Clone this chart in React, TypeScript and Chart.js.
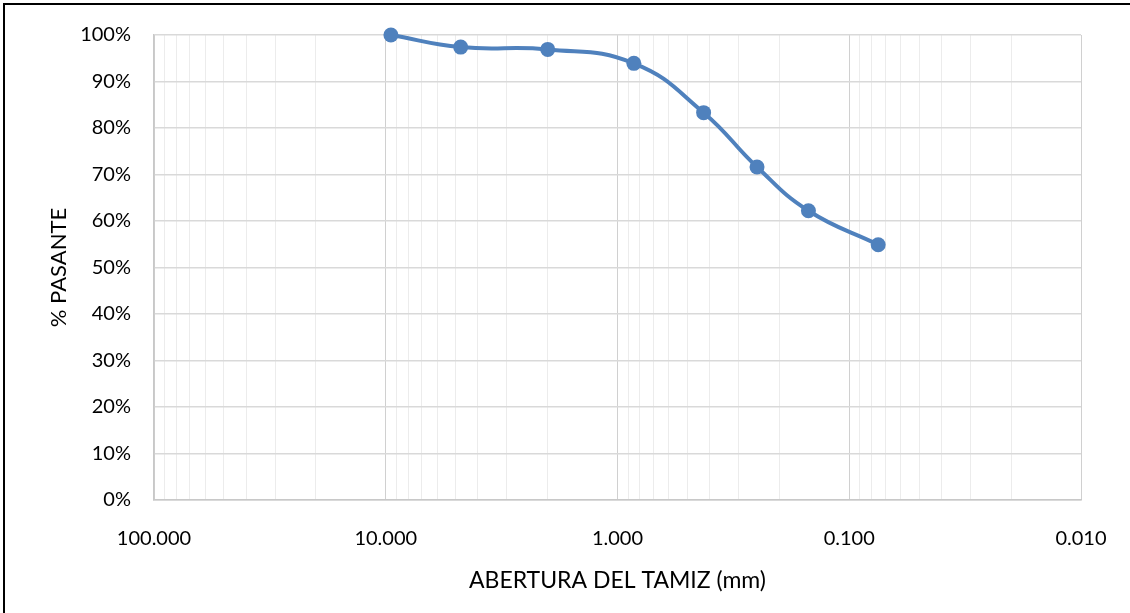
import { useEffect, useRef } from 'react';
import { Chart, registerables } from 'chart.js';

Chart.register(...registerables);

// Sieve openings (mm) and % passing
const aberturas = [9.5, 4.75, 2.0, 0.85, 0.425, 0.25, 0.15, 0.075];
const pasantes = [100, 97.4, 96.9, 93.9, 83.3, 71.6, 62.2, 54.9];

// Axis ticks
const xDecades = [100, 10, 1, 0.1, 0.01];
const xMultiples = [1, 2, 3, 4, 5, 6, 7, 8, 9];
const yTickValues = [0, 10, 20, 30, 40, 50, 60, 70, 80, 90, 100];

const xTitle = 'ABERTURA DEL TAMIZ (mm)';
const yTitle = '% PASANTE';

const isDecade = (v: number) => xDecades.some((d) => Math.abs(d - v) / d < 1e-9);

const xGridTicks: number[] = [];
for (const d of xDecades) {
  if (d === 100) {
    xGridTicks.push(d);
    continue;
  }
  for (const m of xMultiples) {
    const v = Number((d * m).toPrecision(6));
    if (v <= 100) xGridTicks.push(v);
  }
}

export default function App() {
  const canvasRef = useRef<HTMLCanvasElement | null>(null);

  useEffect(() => {
    document.body.style.margin = '0';
    const canvas = canvasRef.current;
    if (!canvas) return;
    const font = { family: 'Lato', size: 20, lineHeight: 1.2 };
    const chart = new Chart(canvas, {
      type: 'line',
      data: {
        datasets: [
          {
            data: aberturas.map((x, i) => ({ x, y: pasantes[i] })),
            borderColor: '#4F81BD',
            backgroundColor: '#4F81BD',
            borderWidth: 4,
            pointRadius: 7.5,
            pointBackgroundColor: '#4F81BD',
            pointBorderWidth: 0,
            tension: 0.45,
            clip: false as any,
          },
        ],
      },
      options: {
        animation: false,
        responsive: false,
        maintainAspectRatio: false,
        layout: { padding: { top: 33, right: 49, left: 0, bottom: 0 } },
        plugins: {
          legend: { display: false },
          tooltip: { enabled: false },
        },
        scales: {
          x: {
            type: 'logarithmic',
            reverse: true,
            min: 0.01,
            max: 100,
            afterBuildTicks: (scale: any) => {
              scale.ticks = xGridTicks.map((v) => ({ value: v, major: isDecade(v) }));
            },
            afterFit: (scale: any) => {
              scale.height = 113;
            },
            ticks: {
              autoSkip: false,
              maxRotation: 0,
              minRotation: 0,
              padding: 27,
              color: '#000',
              font,
              callback: (value: any) => (isDecade(Number(value)) ? Number(value).toFixed(3) : ''),
            },
            grid: {
              drawTicks: false,
              lineWidth: 1,
              color: (ctx: any) => (ctx.tick && isDecade(ctx.tick.value) ? '#d0d0d0' : '#ececec'),
            },
            border: { display: true, color: '#c8c8c8', width: 1.5 },
            title: {
              display: true,
              text: xTitle,
              color: '#000',
              font: { family: 'Lato', size: 23, lineHeight: 1.2 },
              padding: { top: 0, bottom: 19 },
            },
          },
          y: {
            type: 'linear',
            min: 0,
            max: 100,
            afterBuildTicks: (scale: any) => {
              scale.ticks = yTickValues.map((v) => ({ value: v }));
            },
            afterFit: (scale: any) => {
              scale.width = 154;
            },
            ticks: {
              padding: 23,
              color: '#000',
              font,
              callback: (value: any) => `${value}%`,
            },
            grid: {
              drawTicks: false,
              color: '#d9d9d9',
              lineWidth: 1.5,
            },
            border: { display: true, color: '#c8c8c8', width: 1.5 },
            title: {
              display: true,
              text: yTitle,
              color: '#000',
              font: { family: 'Lato', size: 22, lineHeight: 1.2 },
              padding: { top: 46, bottom: 0 },
            },
          },
        },
      },
    });
    return () => chart.destroy();
  }, []);

  return (
    <div style={{ position: 'relative', width: 1130, height: 613, background: '#fff' }}>
      <canvas ref={canvasRef} width={1130} height={613} style={{ display: 'block', width: 1130, height: 613 }} />
      <div
        style={{
          position: 'absolute',
          left: 3,
          top: 3,
          right: 0,
          bottom: 0,
          borderTop: '2px solid #000',
          borderLeft: '2px solid #000',
          pointerEvents: 'none',
        }}
      />
    </div>
  );
}
